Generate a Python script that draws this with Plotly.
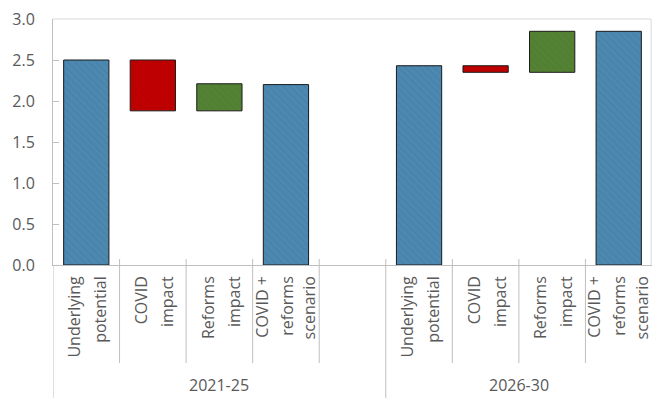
import plotly.graph_objects as go

# ---- data ----
periods = ["2021-25", "2026-30"]
components = ["Underlying<br>potential", "COVID<br>impact", "Reforms<br>impact", "COVID +<br>reforms<br>scenario"]
underlying = [2.50, 2.43]
covid_impact = [-0.62, -0.08]
reforms_impact = [0.33, 0.50]
scenario = [2.20, 2.85]
y_ticks = [0.0, 0.5, 1.0, 1.5, 2.0, 2.5, 3.0]

BLUE, BLUE_P = "#4c88b0", "#3f7aa2"
RED, RED_P = "#c00000", "#b00000"
GREEN, GREEN_P = "#548235", "#4a7a2c"
TXT = "#595959"
AX = "#bfbfbf"
FONT = "Open Sans"

# category keys (unique), with a blank slot at the end of the first period
cats = []
labels = {}
for pi, p in enumerate(periods):
    for c in components:
        k = f"{p}|{c}"
        cats.append(k)
        labels[k] = c
    if pi == 0:
        cats.append(f"{p}|gap")
        labels[f"{p}|gap"] = ""

blue_x, blue_y, blue_b = [], [], []
red_x, red_y, red_b = [], [], []
green_x, green_y, green_b = [], [], []
for i, p in enumerate(periods):
    u, c, r, s = underlying[i], covid_impact[i], reforms_impact[i], scenario[i]
    blue_x += [f"{p}|{components[0]}", f"{p}|{components[3]}"]
    blue_y += [u, s]
    blue_b += [0, 0]
    red_x.append(f"{p}|{components[1]}")
    red_y.append(-c)
    red_b.append(u + c)
    green_x.append(f"{p}|{components[2]}")
    green_y.append(r)
    green_b.append(u + c)

def bar(x, y, b, col, pcol):
    return go.Bar(
        x=x, y=y, base=b,
        marker=dict(color=col, line=dict(color="#1a1a1a", width=1),
                    pattern=dict(shape="\\", fgcolor=pcol, bgcolor=col, size=5, solidity=0.25)),
        showlegend=False, hoverinfo="skip")

fig = go.Figure([bar(blue_x, blue_y, blue_b, BLUE, BLUE_P),
                 bar(red_x, red_y, red_b, RED, RED_P),
                 bar(green_x, green_y, green_b, GREEN, GREEN_P)])

W, H = 652, 398
L, R, T, B = 53, 0, 19, 133
plot_h = H - T - B
plot_w = W - L - R
n = len(cats)
cat_px = plot_w / n

def py(pix):  # pixel row -> paper y
    return (H - B - pix) / plot_h

shapes = []
# frame top and right
shapes.append(dict(type="line", xref="paper", yref="paper", x0=0, x1=0.9985, y0=1, y1=1,
                   line=dict(color="#d9d9d9", width=1)))
shapes.append(dict(type="line", xref="paper", yref="paper", x0=0.9985, x1=0.9985, y0=0, y1=1,
                   line=dict(color="#d9d9d9", width=1)))
# category dividers
gap_idx = cats.index(f"{periods[0]}|gap")
for j in range(n - 1):
    xb = j + 0.5
    outer = (j == gap_idx)
    shapes.append(dict(type="line", xref="x", yref="paper", x0=xb, x1=xb,
                       y0=py(259), y1=py(398 if outer else 363),
                       line=dict(color=AX, width=1)))
shapes.append(dict(type="line", xref="x", yref="paper", x0=-0.5, x1=-0.5,
                   y0=0, y1=py(398), line=dict(color=AX, width=1)))

# rotated multi-line category labels: one overlaying axis per (line count, line index)
line_offsets = {2: [-11, 15], 3: [-23.5, 1.5, 24]}
layout_axes = {}
ax_i = 2
for m, offs in line_offsets.items():
    for li, off in enumerate(offs):
        ttext = []
        for k in cats:
            parts = labels[k].split("<br>") if labels[k] else []
            ttext.append(parts[li] if len(parts) == m else "")
        shift = off / cat_px
        layout_axes[f"xaxis{ax_i}"] = dict(
            overlaying="x", anchor="y", side="bottom", type="category",
            categoryorder="array", categoryarray=cats,
            range=[-0.5 - shift, n - 0.5 - shift],
            tickmode="array", tickvals=cats, ticktext=ttext, tickangle=-90,
            ticks="", showline=False, showgrid=False, zeroline=False,
            ticklabelstandoff=7, tickfont=dict(family=FONT, size=16, color=TXT),
            fixedrange=True)
        fig.add_trace(go.Scatter(x=[cats[0]], y=[None], xaxis=f"x{ax_i}", yaxis="y",
                                 showlegend=False, hoverinfo="skip", mode="markers"))
        ax_i += 1

annotations = []
for pi, p in enumerate(periods):
    idxs = [i for i, k in enumerate(cats) if k.startswith(p + "|")]
    xc = (idxs[0] + idxs[-1]) / 2
    annotations.append(dict(x=xc, xref="x", y=py(385), yref="paper", text=p, showarrow=False,
                            xanchor="center", yanchor="middle",
                            font=dict(family=FONT, size=16, color=TXT)))

fig.update_layout(
    width=W, height=H, margin=dict(l=L, r=R, t=T, b=B),
    paper_bgcolor="white", plot_bgcolor="white",
    barmode="overlay", bargap=0.32,
    font=dict(family=FONT, size=16, color=TXT),
    xaxis=dict(type="category", categoryorder="array", categoryarray=cats,
               range=[-0.5, n - 0.5], showticklabels=False, ticks="",
               showline=True, linecolor=AX, linewidth=1, showgrid=False, zeroline=False,
               fixedrange=True),
    yaxis=dict(range=[0, 3], tickvals=y_ticks, ticktext=[f"{v:.1f}" for v in y_ticks],
               ticks="inside", ticklen=6, tickcolor=AX, showline=True, linecolor=AX,
               linewidth=1, showgrid=False, zeroline=False, ticklabelstandoff=14,
               tickfont=dict(family=FONT, size=16, color=TXT), fixedrange=True),
    shapes=shapes, annotations=annotations,
    **layout_axes,
)

fig.write_html("out.html", config={"displayModeBar": False},
               post_script="document.body.style.margin='0';document.body.style.overflow='hidden';")
